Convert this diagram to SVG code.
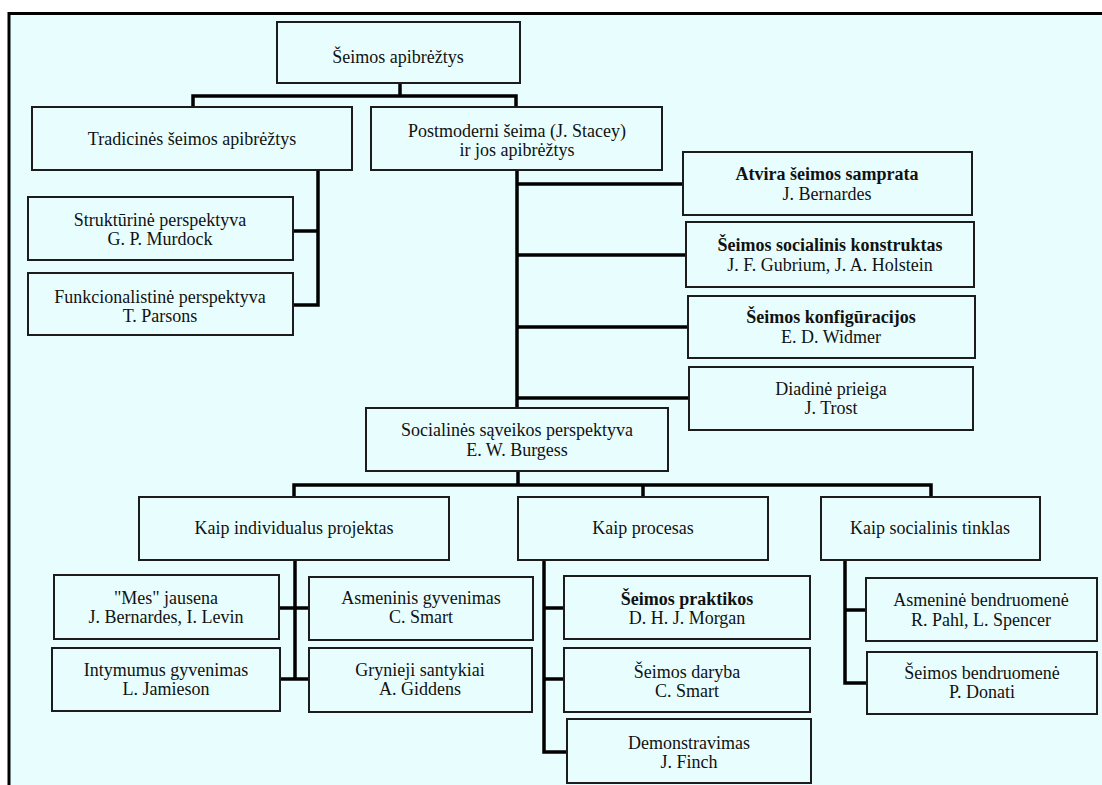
<svg xmlns="http://www.w3.org/2000/svg" width="1102" height="785" viewBox="0 0 1102 785">
  <style>
    .box { fill: #e8fefe; stroke: #1c1c1c; stroke-width: 2; }
    .wire { fill: none; stroke: #000; stroke-width: 3.5; stroke-linecap: square; }
    text { font-family: "Liberation Serif", "Times New Roman", serif; font-size: 18px; fill: #111; text-anchor: middle; }
    .b { font-weight: bold; }
  </style>

  <!-- page background and frame -->
  <rect x="0" y="0" width="1102" height="785" fill="#ffffff"/>
  <rect x="8" y="13" width="1094" height="772" fill="#e8fefe"/>
  <path d="M 9,785 V 13.5 H 1102" fill="none" stroke="#000" stroke-width="3"/>

  <!-- connectors -->
  <g id="connectors" class="wire">
    <path d="M 400,83 V 96 M 193,107 V 96 H 516 V 107"/>
    <path d="M 318,170 V 305 M 293,231 H 318 M 293,305 H 318"/>
    <path d="M 517,170 V 408 M 517,184 H 683 M 517,255 H 686 M 517,327 H 688 M 517,398 H 689"/>
    <path d="M 518,471 V 485 M 294,497 V 485 H 931 V 497 M 643,485 V 497"/>
    <path d="M 295,560 V 679 M 279,608 H 309 M 280,679 H 309"/>
    <path d="M 544,560 V 752 H 567 M 544,608 H 564 M 544,679 H 564"/>
    <path d="M 845,560 V 683 H 867 M 845,610 H 866"/>
  </g>

  <g id="n-root">
    <rect class="box" x="277" y="22" width="243" height="61"/>
    <text x="398" y="63">Šeimos apibrėžtys</text>
  </g>

  <g id="n-tradicines">
    <rect class="box" x="32" y="107" width="320" height="63"/>
    <text x="192" y="145">Tradicinės šeimos apibrėžtys</text>
  </g>

  <g id="n-postmoderni">
    <rect class="box" x="371" y="107" width="291" height="63"/>
    <text x="517" y="137">Postmoderni šeima (J. Stacey)</text>
    <text x="517" y="156">ir jos apibrėžtys</text>
  </g>

  <g id="n-strukturine">
    <rect class="box" x="28" y="197" width="265" height="63"/>
    <text x="160" y="226">Struktūrinė perspektyva</text>
    <text x="160" y="245">G. P. Murdock</text>
  </g>

  <g id="n-funkcionalistine">
    <rect class="box" x="28" y="273" width="265" height="62"/>
    <text x="160" y="303">Funkcionalistinė perspektyva</text>
    <text x="160" y="322">T. Parsons</text>
  </g>

  <g id="n-atvira">
    <rect class="box" x="683" y="152" width="289" height="63"/>
    <text class="b" x="827" y="180">Atvira šeimos samprata</text>
    <text x="827" y="200">J. Bernardes</text>
  </g>

  <g id="n-konstruktas">
    <rect class="box" x="686" y="222" width="288" height="65"/>
    <text class="b" x="830" y="251">Šeimos socialinis konstruktas</text>
    <text x="830" y="271">J. F. Gubrium, J. A. Holstein</text>
  </g>

  <g id="n-konfiguracijos">
    <rect class="box" x="688" y="296" width="287" height="62"/>
    <text class="b" x="831" y="323">Šeimos konfigūracijos</text>
    <text x="831" y="343">E. D. Widmer</text>
  </g>

  <g id="n-diadine">
    <rect class="box" x="689" y="367" width="284" height="63"/>
    <text x="831" y="395">Diadinė prieiga</text>
    <text x="831" y="414">J. Trost</text>
  </g>

  <g id="n-socialines">
    <rect class="box" x="366" y="408" width="302" height="63"/>
    <text x="517" y="436">Socialinės sąveikos perspektyva</text>
    <text x="517" y="456">E. W. Burgess</text>
  </g>

  <g id="n-individualus">
    <rect class="box" x="139" y="497" width="310" height="63"/>
    <text x="294" y="534">Kaip individualus projektas</text>
  </g>

  <g id="n-procesas">
    <rect class="box" x="518" y="497" width="250" height="63"/>
    <text x="643" y="534">Kaip procesas</text>
  </g>

  <g id="n-tinklas">
    <rect class="box" x="821" y="497" width="219" height="63"/>
    <text x="930" y="534">Kaip socialinis tinklas</text>
  </g>

  <g id="n-mes">
    <rect class="box" x="54" y="575" width="225" height="64"/>
    <text x="166" y="604">"Mes" jausena</text>
    <text x="166" y="623">J. Bernardes, I. Levin</text>
  </g>

  <g id="n-asmeninis">
    <rect class="box" x="309" y="577" width="224" height="63"/>
    <text x="421" y="604">Asmeninis gyvenimas</text>
    <text x="421" y="623">C. Smart</text>
  </g>

  <g id="n-intymumus">
    <rect class="box" x="52" y="648" width="228" height="63"/>
    <text x="166" y="676">Intymumus gyvenimas</text>
    <text x="166" y="695">L. Jamieson</text>
  </g>

  <g id="n-grynieji">
    <rect class="box" x="309" y="648" width="223" height="64"/>
    <text x="420" y="676">Grynieji santykiai</text>
    <text x="420" y="695">A. Giddens</text>
  </g>

  <g id="n-praktikos">
    <rect class="box" x="564" y="576" width="246" height="63"/>
    <text class="b" x="687" y="605">Šeimos praktikos</text>
    <text x="687" y="624">D. H. J. Morgan</text>
  </g>

  <g id="n-daryba">
    <rect class="box" x="564" y="648" width="246" height="64"/>
    <text x="687" y="678">Šeimos daryba</text>
    <text x="687" y="697">C. Smart</text>
  </g>

  <g id="n-demonstravimas">
    <rect class="box" x="567" y="719" width="244" height="64"/>
    <text x="689" y="749">Demonstravimas</text>
    <text x="689" y="768">J. Finch</text>
  </g>

  <g id="n-asmenine-bendruomene">
    <rect class="box" x="866" y="578" width="231" height="63"/>
    <text x="981" y="606">Asmeninė bendruomenė</text>
    <text x="981" y="626">R. Pahl, L. Spencer</text>
  </g>

  <g id="n-seimos-bendruomene">
    <rect class="box" x="867" y="652" width="230" height="62"/>
    <text x="982" y="679">Šeimos bendruomenė</text>
    <text x="982" y="698">P. Donati</text>
  </g>
</svg>
